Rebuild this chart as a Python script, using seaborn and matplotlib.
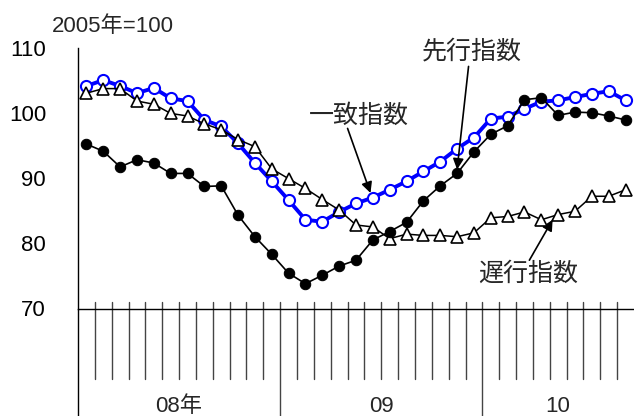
import matplotlib
matplotlib.use("Agg")
import matplotlib.pyplot as plt
import matplotlib.transforms as mtransforms
from matplotlib.lines import Line2D
import numpy as np
import pandas as pd
import seaborn as sns

# Monthly composite indexes, Jan 2008 - Sep 2010 (2005 = 100)
months = pd.period_range("2008-01", "2010-09", freq="M")
leading = [95.2, 94.1, 91.7, 92.8, 92.3, 90.7, 90.7, 88.7, 88.8, 84.3, 81.0,
           78.3, 75.4, 73.8, 75.1, 76.5, 77.4, 80.5, 81.8, 83.2, 86.5, 88.8,
           90.7, 94.0, 96.7, 98.0, 102.0, 102.3, 99.6, 100.1, 100.0, 99.5, 98.9]
coincident = [104.1, 105.0, 104.1, 103.0, 103.8, 102.2, 101.8, 98.9, 97.9, 95.3, 92.3,
              89.5, 86.6, 83.6, 83.3, 84.8, 86.1, 87.0, 88.2, 89.5, 91.0, 92.5,
              94.5, 96.2, 99.1, 99.4, 100.6, 101.7, 101.9, 102.4, 102.9, 103.3, 101.9]
lagging = [103.0, 103.7, 103.7, 101.8, 101.3, 99.9, 99.5, 98.3, 97.4, 95.9, 94.8,
           91.4, 89.9, 88.4, 86.7, 85.1, 82.8, 82.5, 80.7, 81.4, 81.2, 81.2,
           81.0, 81.6, 83.9, 84.1, 84.8, 83.6, 84.4, 84.9, 87.2, 87.2, 88.2]
year_labels = ["08年", "09", "10"]
y_ticks = [70, 80, 90, 100, 110]

df = pd.DataFrame({"t": np.arange(len(months)), "leading": leading,
                   "coincident": coincident, "lagging": lagging})

sns.set_style("white")
plt.rcParams["font.family"] = ["Liberation Sans", "Noto Sans CJK JP"]

W, H = 634, 416
fig = plt.figure(figsize=(W / 100, H / 100), dpi=100)
ax_left, ax_top, ax_bottom, ax_right = 78, 47.5, 308.5, 634
ax = fig.add_axes([ax_left / W, 1 - ax_bottom / H,
                   (ax_right - ax_left) / W, (ax_bottom - ax_top) / H])

# coincident index: thick blue line with open circles
sns.lineplot(data=df, x="t", y="coincident", ax=ax, color="#0000ff", lw=2.8,
             marker="o", markersize=8, markerfacecolor="white",
             markeredgecolor="#0000ff", markeredgewidth=1.5, zorder=3)
# lagging index: thin black line with open triangles
sns.lineplot(data=df, x="t", y="lagging", ax=ax, color="black", lw=1.1,
             marker="^", markersize=8.5, markerfacecolor="white",
             markeredgecolor="black", markeredgewidth=1.2, zorder=4)
# leading index: black line with filled circles
sns.lineplot(data=df, x="t", y="leading", ax=ax, color="black", lw=1.2,
             marker="o", markersize=7.5, markerfacecolor="black",
             markeredgecolor="black", zorder=5)

n = len(months)
ax.set_xlim(-0.5, n - 0.5)
ax.set_ylim(70, 110)
ax.set_yticks(y_ticks)
ax.set_yticklabels([str(v) for v in y_ticks], fontsize=16)
ax.tick_params(axis="y", direction="in", length=4, width=1, pad=23, colors="black")
ax.set_xticks([])
ax.set_xlabel("")
ax.set_ylabel("")
for s in ("top", "right"):
    ax.spines[s].set_visible(False)
for s in ("left", "bottom"):
    ax.spines[s].set_color("black")
    ax.spines[s].set_linewidth(1.0)

# month ticks and year dividers below the axis
axh = ax_bottom - ax_top
def ay(py):
    return (ax_bottom - py) / axh

trans = mtransforms.blended_transform_factory(ax.transData, ax.transAxes)
for k in range(1, n):
    xb = k - 0.5
    is_year = (months[k].month == 1)
    y_end = ay(416) if is_year else ay(379.3)
    ax.add_line(Line2D([xb, xb], [ay(302.3), y_end], transform=trans,
                       color="#444444", lw=1.0, clip_on=False))
# left spine continues down through the date band
ax.add_line(Line2D([0, 0], [0, ay(416)], transform=ax.transAxes,
                   color="black", lw=1.0, clip_on=False))

# year labels centred on each year's span
years = sorted(set(p.year for p in months))
for lab, yr in zip(year_labels, years):
    idx = [i for i, p in enumerate(months) if p.year == yr]
    xc = (idx[0] - 0.5 + idx[-1] + 0.5) / 2
    ax.text(xc, ay(406), lab, transform=trans, ha="center", va="center",
            fontsize=16, clip_on=False)

fig.text(52 / W, 1 - 26 / H, "2005年=100", ha="left", va="center", fontsize=16)

# series labels with arrows
arrow = dict(arrowstyle="-|>", color="black", lw=1.2, mutation_scale=16,
             shrinkA=0, shrinkB=0)
ax.text(22.9, 109.4, "先行指数", ha="center", va="center", fontsize=18)
ax.annotate("", xy=(22.0, 91.3), xytext=(22.68, 107.1), arrowprops=arrow)
ax.text(16.15, 99.6, "一致指数", ha="center", va="center", fontsize=18)
ax.annotate("", xy=(16.86, 87.7), xytext=(15.5, 97.6), arrowprops=arrow)
ax.text(26.23, 75.4, "遅行指数", ha="center", va="center", fontsize=18)
ax.annotate("", xy=(27.67, 83.6), xytext=(26.29, 77.4), arrowprops=arrow)

fig.savefig("out.png", dpi=100, facecolor="white")
